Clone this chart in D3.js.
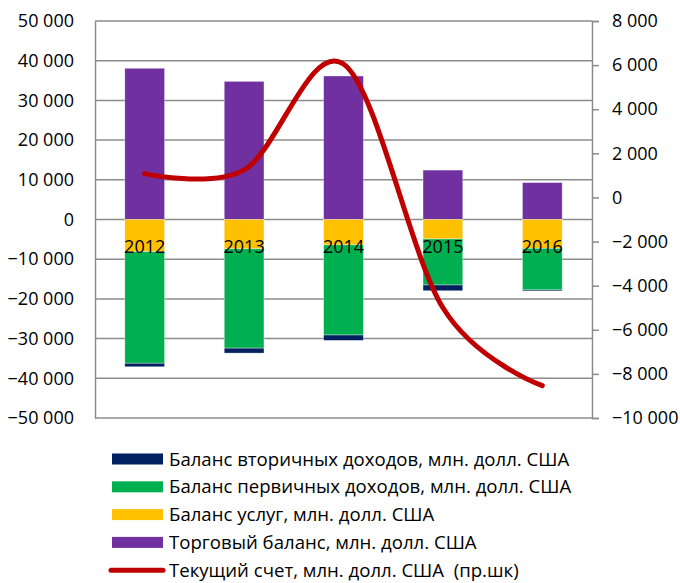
<!DOCTYPE html>
<html>
<head>
<meta charset="utf-8">
<script src="https://cdn.jsdelivr.net/npm/d3@7"></script>
<style>
    body { margin: 0; background: #fff; }
    svg text { font-family: "Open Sans", "Noto Sans", sans-serif; fill: #000; }
</style>
</head>
<body>
<svg id="chart" width="680" height="583"></svg>
<script>
// Chart data
const years = ['2012', '2013', '2014', '2015', '2016'];
const tradeBalance = [38100, 34800, 36150, 12450, 9300];
const servicesBalance = [-8100, -7400, -6400, -4900, -7250];
const primaryIncome = [-28100, -25000, -22700, -11600, -10500];
const secondaryIncome = [-900, -1250, -1350, -1450, -250];
const currentAccount = [1080, 1250, 6050, -5000, -8530];

const leftTicks = [50000, 40000, 30000, 20000, 10000, 0, -10000, -20000, -30000, -40000, -50000];
const rightTicks = [8000, 6000, 4000, 2000, 0, -2000, -4000, -6000, -8000, -10000];

const seriesNames = {
    secondary: 'Баланс вторичных доходов, млн. долл. США',
    primary: 'Баланс первичных доходов, млн. долл. США',
    services: 'Баланс услуг, млн. долл. США',
    trade: 'Торговый баланс, млн. долл. США',
    current: 'Текущий счет, млн. долл. США  (пр.шк)'
};

const colors = {
    trade: '#7030A0',
    services: '#FFC000',
    primary: '#00B050',
    secondary: '#002060',
    current: '#C00000'
};

// Plot area
const plot = {left: 95, right: 592, top: 21, bottom: 418};
const fontSize = 18;
const legendFontSize = 18.6;

const svg = d3.select('#chart');

const x = d3.scaleBand()
    .domain(years)
    .range([plot.left, plot.right])
    .paddingInner(0.6)
    .paddingOuter(0.3);

const yLeft = d3.scaleLinear()
    .domain([-50000, 50000])
    .range([plot.bottom, plot.top]);

const yRight = d3.scaleLinear()
    .domain([-10000, 8000])
    .range([plot.bottom, plot.top]);

const numFormat = d => d3.format(',')(d).replace(/,/g, ' ');

// Gridlines
svg.append('g')
    .selectAll('line')
    .data(leftTicks)
    .enter().append('line')
    .attr('x1', plot.left)
    .attr('x2', plot.right)
    .attr('y1', d => yLeft(d))
    .attr('y2', d => yLeft(d))
    .attr('stroke', '#8c8c8c')
    .attr('stroke-width', 1.5);

// Left axis
const leftAxis = svg.append('g')
    .attr('transform', 'translate(' + plot.left + ',0)')
    .call(d3.axisLeft(yLeft)
        .tickValues(leftTicks)
        .tickSize(0)
        .tickPadding(21)
        .tickFormat(numFormat));
leftAxis.select('.domain').attr('stroke', '#8c8c8c').attr('stroke-width', 1.5);
leftAxis.selectAll('text')
    .attr('font-size', fontSize)
    .style('font-family', '"Open Sans", sans-serif')
    .attr('fill', '#000');

// Right axis
const rightAxis = svg.append('g')
    .attr('transform', 'translate(' + plot.right + ',0)')
    .call(d3.axisRight(yRight)
        .tickValues(rightTicks)
        .tickSize(7)
        .tickPadding(13)
        .tickFormat(numFormat));
rightAxis.select('.domain').attr('stroke', '#8c8c8c').attr('stroke-width', 1.5);
rightAxis.selectAll('.tick line').attr('stroke', '#8c8c8c').attr('stroke-width', 1.5);
rightAxis.selectAll('text')
    .attr('font-size', fontSize)
    .style('font-family', '"Open Sans", sans-serif')
    .attr('fill', '#000');

// Stacked bars
const keys = ['trade', 'services', 'primary', 'secondary'];
const table = years.map((year, i) => ({
    year: year,
    trade: tradeBalance[i],
    services: servicesBalance[i],
    primary: primaryIncome[i],
    secondary: secondaryIncome[i]
}));

const stack = d3.stack()
    .keys(keys)
    .offset(d3.stackOffsetDiverging);

const layers = svg.append('g')
    .selectAll('g')
    .data(stack(table))
    .enter().append('g')
    .attr('fill', d => colors[d.key]);

layers.selectAll('rect')
    .data(d => d)
    .enter().append('rect')
    .attr('x', d => x(d.data.year))
    .attr('width', x.bandwidth())
    .attr('y', d => yLeft(Math.max(d[0], d[1])))
    .attr('height', d => Math.abs(yLeft(d[0]) - yLeft(d[1])))
    .attr('stroke', '#fff')
    .attr('stroke-opacity', 0.6)
    .attr('stroke-width', 0.6);

// Category labels next to zero line
svg.append('g')
    .selectAll('text')
    .data(years)
    .enter().append('text')
    .attr('x', d => x(d) + x.bandwidth() / 2)
    .attr('y', yLeft(0) + 33)
    .attr('text-anchor', 'middle')
    .attr('font-size', fontSize)
    .text(d => d);

// Current account line (right scale)
const line = d3.line()
    .x((d, i) => x(years[i]) + x.bandwidth() / 2)
    .y(d => yRight(d))
    .curve(d3.curveCardinal.tension(0));

svg.append('path')
    .datum(currentAccount)
    .attr('d', line)
    .attr('fill', 'none')
    .attr('stroke', colors.current)
    .attr('stroke-width', 5)
    .attr('stroke-linecap', 'round')
    .attr('stroke-linejoin', 'round');

// Legend
const legendKeys = ['secondary', 'primary', 'services', 'trade', 'current'];
const legend = svg.append('g')
    .selectAll('g')
    .data(legendKeys)
    .enter().append('g')
    .attr('transform', (d, i) => 'translate(0,' + (459 + i * 27.8) + ')');

legend.filter(d => d !== 'current')
    .append('rect')
    .attr('x', 112)
    .attr('y', -5.5)
    .attr('width', 51)
    .attr('height', 11)
    .attr('fill', d => colors[d]);

legend.filter(d => d === 'current')
    .append('line')
    .attr('x1', 111)
    .attr('x2', 163)
    .attr('stroke', colors.current)
    .attr('stroke-width', 5)
    .attr('stroke-linecap', 'round');

legend.append('text')
    .attr('x', 169)
    .attr('dy', '0.35em')
    .attr('font-size', legendFontSize)
    .style('white-space', 'pre')
    .text(d => seriesNames[d]);
</script>
</body>
</html>
